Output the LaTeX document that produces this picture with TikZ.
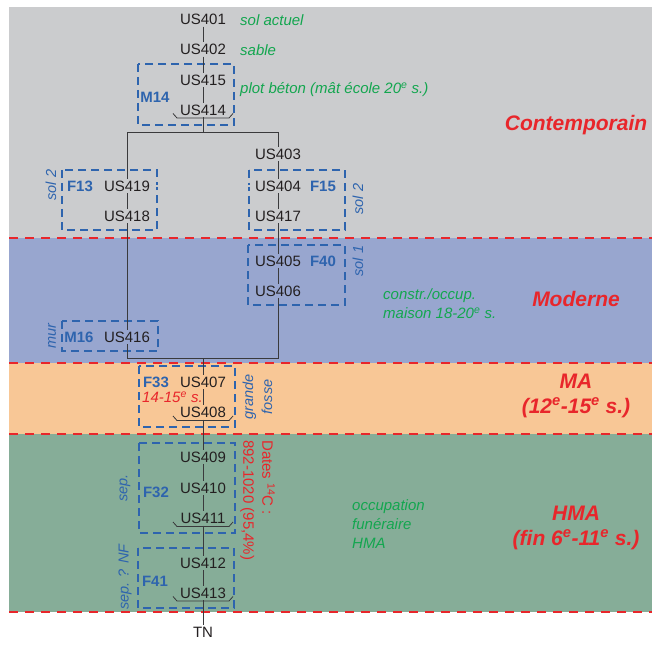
\documentclass[tikz,border=0pt]{standalone}
\usepackage{fontspec}
\setmainfont{Liberation Sans}
\usepackage{tikz}

\definecolor{bandcont}{HTML}{CBCCCE}
\definecolor{bandmod}{HTML}{98A6CF}
\definecolor{bandma}{HTML}{F8C796}
\definecolor{bandhma}{HTML}{86AD98}
\definecolor{limitred}{HTML}{E8262B}
\definecolor{featblue}{HTML}{2E64AE}
\definecolor{notegreen}{HTML}{13A64F}
\definecolor{usdark}{HTML}{231F20}
\definecolor{linkgray}{HTML}{3A3A3C}

\begin{document}
\begin{tikzpicture}[x=1pt,y=-1pt,
    us/.style={font=\fontsize{15}{18}\selectfont,text=usdark,inner sep=1.5pt},
    feat/.style={font=\fontsize{15}{18}\selectfont\bfseries,text=featblue,inner sep=1pt},
    note/.style={font=\fontsize{15}{19}\selectfont\itshape,text=notegreen,align=left,anchor=west,inner sep=0pt},
    side/.style={font=\fontsize{14.5}{19}\selectfont\itshape,text=featblue,rotate=90,align=center,inner sep=0pt},
    period/.style={font=\fontsize{21}{25}\selectfont\bfseries\itshape,text=limitred,align=center,inner sep=0pt},
    featbox/.style={draw=featblue,line width=1.1pt,dash pattern=on 8pt off 5pt},
    limit/.style={draw=limitred,line width=2.5pt,dash pattern=on 9pt off 7pt},
    link/.style={draw=linkgray,line width=0.9pt},
    usbracket/.style={draw=linkgray,line width=0.8pt}]
    \useasboundingbox[fill=white] (0,0) rectangle (652,644);

    % periodes
    \fill[bandcont] (9,7) rectangle (652,238);
    \fill[bandmod] (9,238) rectangle (652,363);
    \fill[bandma] (9,363) rectangle (652,434);
    \fill[bandhma] (9,434) rectangle (652,612);
    \foreach \y in {238,363,434,612}
        \draw[limit] (9,\y) -- (652,\y);

    % faits
    \draw[featbox] (138,64) rectangle (234,125);
    \draw[featbox] (62,170) rectangle (157,230);
    \draw[featbox] (249,170) rectangle (345,230);
    \draw[featbox] (248,245) rectangle (345,305);
    \draw[featbox] (62,321) rectangle (158,351);
    \draw[featbox] (139,366) rectangle (235,427);
    \draw[featbox] (139,443) rectangle (235,533);
    \draw[featbox] (138,548) rectangle (234,608);

    \node[feat] (m14) at (155,97) {M14};
    \node[feat] (f13) at (80,186) {F13};
    \node[feat] (f15) at (323,186) {F15};
    \node[feat] (f40) at (323,261) {F40};
    \node[feat] (m16) at (79,337) {M16};
    \node[feat] (f33) at (156,382) {F33};
    \node[feat] (f32) at (156,492) {F32};
    \node[feat] (f41) at (155,581) {F41};

    % unites stratigraphiques
    \foreach \n/\x/\y in {401/203/19.5,402/203/49.5,415/203/80,414/203/110,
                          403/278/154,404/278/186,417/278/216,405/278/261,406/278/291,
                          419/127/186,418/127/216,416/127/337,
                          407/203/382,408/203/412.5,409/203/457,410/203/488,
                          411/203/518.5,412/203/563,413/203/593}
        \node[us] (u\n) at (\x,\y) {US\n};
    \node[us] (tn) at (203,632) {TN};

    \foreach \n in {414,408,411,413}
        \draw[usbracket] ([shift={(-30,3.5)}]u\n.center) -- ++(4,4.5)
            -- ++(52,0) -- ++(4,-4.5);

    \coordinate (jt) at (203,132);
    \coordinate (jl) at (127,132);
    \coordinate (jr) at (278,132);
    \coordinate (jb) at (203,358);
    \coordinate (bl) at (127,358);
    \coordinate (br) at (278,358);

    \draw[link] (u401) -- (u402) -- (u415) -- (u414) -- (jt);
    \draw[link] (u406) -- (br) -- (bl) -- (u416) -- (u418) -- (u419) -- (jl)
        -- (jr) -- (u403) -- (u404) -- (u417) -- (u405) -- (u406);
    \draw[link] (jb) -- (u407) -- (u408) -- (u409) -- (u410) -- (u411)
        -- (u412) -- (u413) -- (tn);
    \draw[link,double=bandcont,double distance=1.4pt,line width=0.7pt] (u419) -- (u404);

    % interpretations
    \node[note] (n401) at (240,20) {sol actuel};
    \node[note] (n402) at (240,50) {sable};
    \node[note] (n414) at (240,90) {plot béton (mât école 20\textsuperscript{e} s.)};
    \node[note] (nmod) at (383,303.5) {constr./occup.\\maison 18-20\textsuperscript{e} s.};
    \node[note] (nhma) at (352,524) {occupation\\funéraire\\HMA};
    \node[note,text=limitred] (n407) at (142,397) {14-15\textsuperscript{e} s.};

    \node[side] (s13) at (51,185) {sol 2};
    \node[side] (s15) at (358,199) {sol 2};
    \node[side] (s40) at (358,261) {sol 1};
    \node[side] (s16) at (52,336) {mur};
    \node[side] (s33) at (257.5,397) {grande\\fosse};
    \node[side] (s32) at (125,488) {sep.};
    \node[side] (s41) at (125,577) {sep. ? NF};
    \node[font=\fontsize{15}{19}\selectfont,text=limitred,rotate=-90,align=left,
          anchor=west,inner sep=0pt] (dates) at (257.5,440)
        {Dates \textsuperscript{14}C :\\892-1020 (95,4\%)};

    \node[period] (pcont) at (576,125) {Contemporain};
    \node[period] (pmod) at (576,299) {Moderne};
    \node[period] (pma) at (576,395.5) {MA\\(12\textsuperscript{e}-15\textsuperscript{e} s.)};
    \node[period] (phma) at (576,527.5) {HMA\\(fin 6\textsuperscript{e}-11\textsuperscript{e} s.)};
\end{tikzpicture}
\end{document}
